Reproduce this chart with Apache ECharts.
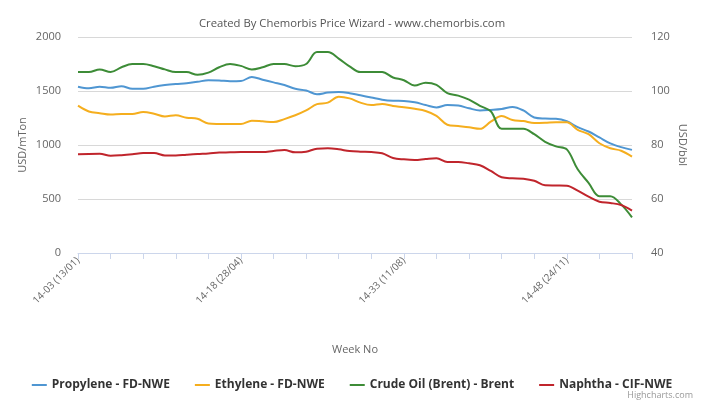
<!DOCTYPE html>
<html>
<head>
<meta charset="utf-8">
<script src="https://cdn.jsdelivr.net/npm/echarts@6/dist/echarts.min.js"></script>
<style>
  html, body { margin: 0; padding: 0; background: #fff; }
  #chart { width: 704px; height: 404px; }
</style>
</head>
<body>
<div id="chart"></div>
<script>
var categories = [
  '14-03 (13/01)','14-04 (20/01)','14-05 (27/01)','14-06 (03/02)','14-07 (10/02)','14-08 (17/02)',
  '14-09 (24/02)','14-10 (03/03)','14-11 (10/03)','14-12 (17/03)','14-13 (24/03)','14-14 (31/03)',
  '14-15 (07/04)','14-16 (14/04)','14-17 (21/04)','14-18 (28/04)','14-19 (05/05)','14-20 (12/05)',
  '14-21 (19/05)','14-22 (26/05)','14-23 (02/06)','14-24 (09/06)','14-25 (16/06)','14-26 (23/06)',
  '14-27 (30/06)','14-28 (07/07)','14-29 (14/07)','14-30 (21/07)','14-31 (28/07)','14-32 (04/08)',
  '14-33 (11/08)','14-34 (18/08)','14-35 (25/08)','14-36 (01/09)','14-37 (08/09)','14-38 (15/09)',
  '14-39 (22/09)','14-40 (29/09)','14-41 (06/10)','14-42 (13/10)','14-43 (20/10)','14-44 (27/10)',
  '14-45 (03/11)','14-46 (10/11)','14-47 (17/11)','14-48 (24/11)','14-49 (01/12)','14-50 (08/12)',
  '14-51 (15/12)','14-52 (22/12)','15-01 (29/12)','15-02 (05/01)'
];

var propylene = [
  1540, 1525, 1540, 1530, 1545, 1520, 1520, 1540, 1555, 1565, 1572, 1585,
  1600, 1598, 1590, 1592, 1630, 1605, 1580, 1555, 1520, 1505, 1470, 1485,
  1490, 1480, 1460, 1440, 1420, 1410, 1408, 1395, 1370, 1348, 1370, 1365,
  1340, 1320, 1325, 1333, 1352, 1320, 1255, 1245, 1243, 1220, 1165, 1125,
  1070, 1015, 980, 955
];

var ethylene = [
  1364, 1310, 1295, 1282, 1287, 1287, 1305, 1290, 1265, 1275, 1252, 1243,
  1200, 1195, 1194, 1194, 1225, 1219, 1212, 1240, 1275, 1320, 1378, 1392,
  1447, 1432, 1392, 1370, 1380, 1362, 1350, 1335, 1315, 1270, 1188, 1176,
  1164, 1150, 1216, 1268, 1232, 1222, 1203, 1205, 1210, 1210, 1140, 1100,
  1016, 970, 947, 892
];

var crudeOil = [
  107, 107, 108, 107, 108.8, 110, 110, 109.2, 108, 107, 107, 106,
  106.8, 108.8, 110, 109.3, 108, 108.8, 110, 110, 109.2, 110, 114.4, 114.4,
  112, 109.1, 107, 107, 107, 105, 104, 102, 103.1, 102.3, 99.2, 98.3,
  96.8, 94.5, 92.5, 86, 86, 86, 84, 81.2, 79.5, 78.4, 71, 66,
  61, 61, 58, 53.2
];

var naphtha = [
  914, 917, 918, 900, 905, 914, 926, 926, 903, 902, 910, 917,
  922, 930, 932, 935, 935, 935, 945, 953, 932, 938, 966, 969,
  960, 944, 938, 935, 923, 880, 867, 861, 870, 877, 843, 843,
  830, 812, 760, 701, 692, 688, 669, 627, 625, 623, 577, 521,
  475, 463, 444, 392
];

var seriesNames = ['Propylene - FD-NWE', 'Ethylene - FD-NWE', 'Crude Oil (Brent) - Brent', 'Naphtha - CIF-NWE'];
var seriesColors = ['#4f96d2', '#f5ae1e', '#3d8c37', '#c0252c'];

var FONT = '"Open Sans", "DejaVu Sans", sans-serif';
var chart = echarts.init(document.getElementById('chart'), null, { renderer: 'canvas' });

function mk(name, data, color, axis) {
  return {
    name: name, type: 'line', data: data, yAxisIndex: axis,
    smooth: 0.35, symbol: 'none', showSymbol: false,
    lineStyle: { width: 2, color: color }, itemStyle: { color: color },
    animation: false
  };
}

chart.setOption({
  animation: false,
  textStyle: { fontFamily: FONT },
  title: {
    text: 'Created By Chemorbis Price Wizard - www.chemorbis.com',
    left: 'center', top: 13,
    textStyle: { fontFamily: FONT, fontSize: 11.3, fontWeight: 'normal', color: '#555' }
  },
  grid: { left: 78, right: 72, top: 37, bottom: 151, containLabel: false },
  legend: {
    bottom: 8, left: 'center',
    icon: 'rect', itemWidth: 15, itemHeight: 2, itemGap: 25,
    textStyle: { fontFamily: FONT, fontSize: 12, fontWeight: 'bold', color: '#333' },
    data: seriesNames
  },
  graphic: [{
    type: 'text', right: 11, bottom: 4,
    style: { text: 'Highcharts.com', fontFamily: FONT, fontSize: 9, fill: '#999' }
  }],
  xAxis: {
    type: 'category', data: categories, boundaryGap: false,
    name: 'Week No', nameLocation: 'middle', nameGap: 91,
    nameTextStyle: { fontFamily: FONT, fontSize: 11, color: '#666' },
    axisLine: { lineStyle: { color: '#ccd6eb', width: 1 } },
    axisTick: { show: true, interval: 2, length: 6, lineStyle: { color: '#ccd6eb' } },
    axisLabel: { interval: 14, rotate: 45, fontSize: 10, color: '#666', margin: 6, fontFamily: FONT },
    splitLine: { show: false }
  },
  yAxis: [{
    type: 'value', min: 0, max: 2000, interval: 500, position: 'left',
    name: 'USD/mTon', nameLocation: 'middle', nameGap: 50, nameMoveOverlap: false,
    nameTextStyle: { fontFamily: FONT, fontSize: 11, color: '#666' },
    axisLine: { show: false }, axisTick: { show: false },
    axisLabel: { fontSize: 11, color: '#666', margin: 17, fontFamily: FONT,
      formatter: function (v) { return String(v); } },
    splitLine: { lineStyle: { color: '#d8d8d8', width: 1 } }
  }, {
    type: 'value', min: 40, max: 120, interval: 20, position: 'right',
    name: 'USD/bbl', nameLocation: 'middle', nameGap: 45, nameRotate: -90, nameMoveOverlap: false,
    nameTextStyle: { fontFamily: FONT, fontSize: 11, color: '#666' },
    axisLine: { show: false }, axisTick: { show: false },
    axisLabel: { fontSize: 11, color: '#666', margin: 19, fontFamily: FONT,
      formatter: function (v) { return String(v); } },
    splitLine: { show: false }
  }],
  series: [
    mk(seriesNames[0], propylene, seriesColors[0], 0),
    mk(seriesNames[1], ethylene, seriesColors[1], 0),
    mk(seriesNames[2], crudeOil, seriesColors[2], 1),
    mk(seriesNames[3], naphtha, seriesColors[3], 0)
  ]
});
</script>
</body>
</html>
